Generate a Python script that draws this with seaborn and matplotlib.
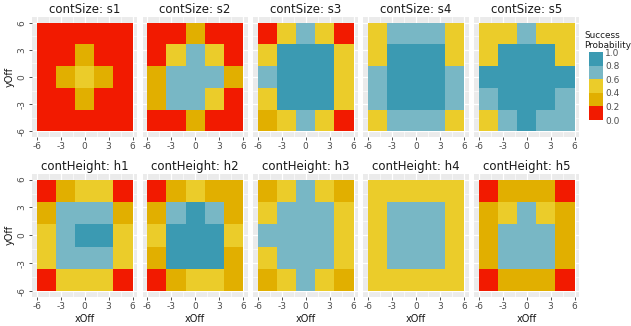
import matplotlib
matplotlib.use("Agg")
import matplotlib.pyplot as plt
from matplotlib.colors import ListedColormap, BoundaryNorm
import seaborn as sns
import pandas as pd

# grid positions
x_off = [-6, -3, 0, 3, 6]
y_off = [6, 3, 0, -3, -6]   # rows go top -> bottom

# success probability per cell (rows yOff = 6 .. -6, cols xOff = -6 .. 6)
s1 = [[0.1, 0.1, 0.1, 0.1, 0.1],
      [0.1, 0.1, 0.3, 0.1, 0.1],
      [0.1, 0.3, 0.5, 0.3, 0.1],
      [0.1, 0.1, 0.3, 0.1, 0.1],
      [0.1, 0.1, 0.1, 0.1, 0.1]]
s2 = [[0.1, 0.1, 0.3, 0.1, 0.1],
      [0.1, 0.5, 0.7, 0.5, 0.1],
      [0.3, 0.7, 0.7, 0.7, 0.3],
      [0.3, 0.7, 0.7, 0.5, 0.1],
      [0.1, 0.1, 0.3, 0.1, 0.1]]
s3 = [[0.1, 0.5, 0.7, 0.5, 0.1],
      [0.5, 0.9, 0.9, 0.9, 0.5],
      [0.7, 0.9, 0.9, 0.9, 0.5],
      [0.5, 0.9, 0.9, 0.9, 0.5],
      [0.3, 0.5, 0.7, 0.5, 0.1]]
s4 = [[0.5, 0.7, 0.7, 0.7, 0.5],
      [0.5, 0.9, 0.9, 0.9, 0.5],
      [0.7, 0.9, 0.9, 0.9, 0.7],
      [0.7, 0.9, 0.9, 0.9, 0.7],
      [0.5, 0.7, 0.7, 0.7, 0.5]]
s5 = [[0.5, 0.5, 0.7, 0.5, 0.5],
      [0.5, 0.9, 0.9, 0.9, 0.5],
      [0.9, 0.9, 0.9, 0.9, 0.9],
      [0.7, 0.9, 0.9, 0.9, 0.7],
      [0.5, 0.7, 0.9, 0.7, 0.7]]
h1 = [[0.1, 0.3, 0.5, 0.5, 0.1],
      [0.3, 0.7, 0.7, 0.7, 0.3],
      [0.5, 0.7, 0.9, 0.9, 0.5],
      [0.5, 0.7, 0.7, 0.7, 0.5],
      [0.1, 0.5, 0.5, 0.5, 0.1]]
h2 = [[0.1, 0.3, 0.5, 0.3, 0.3],
      [0.3, 0.7, 0.9, 0.7, 0.3],
      [0.5, 0.9, 0.9, 0.9, 0.5],
      [0.3, 0.9, 0.9, 0.9, 0.3],
      [0.1, 0.3, 0.5, 0.5, 0.3]]
h3 = [[0.3, 0.5, 0.7, 0.5, 0.3],
      [0.5, 0.7, 0.7, 0.7, 0.5],
      [0.7, 0.7, 0.7, 0.7, 0.5],
      [0.5, 0.7, 0.7, 0.7, 0.5],
      [0.3, 0.5, 0.7, 0.5, 0.3]]
h4 = [[0.5, 0.5, 0.5, 0.5, 0.5],
      [0.5, 0.7, 0.7, 0.7, 0.5],
      [0.5, 0.7, 0.7, 0.7, 0.5],
      [0.5, 0.7, 0.7, 0.7, 0.5],
      [0.5, 0.5, 0.5, 0.5, 0.5]]
h5 = [[0.1, 0.3, 0.3, 0.3, 0.1],
      [0.3, 0.5, 0.7, 0.5, 0.3],
      [0.3, 0.7, 0.7, 0.7, 0.3],
      [0.3, 0.7, 0.7, 0.7, 0.3],
      [0.1, 0.3, 0.3, 0.3, 0.1]]

size_titles = ["contSize: s1", "contSize: s2", "contSize: s3", "contSize: s4", "contSize: s5"]
height_titles = ["contHeight: h1", "contHeight: h2", "contHeight: h3", "contHeight: h4", "contHeight: h5"]

breaks = [0.0, 0.2, 0.4, 0.6, 0.8, 1.0]
zissou = ["#F21A00", "#E1AF00", "#EBCC2A", "#78B7C5", "#3B9AB2"]
cmap = ListedColormap(zissou)
norm = BoundaryNorm(breaks, cmap.N)

plt.rcParams["axes.unicode_minus"] = False
plt.rcParams["font.family"] = "DejaVu Sans"

fig = plt.figure(figsize=(6.31, 3.26), dpi=100)
W, H = 631, 326

def pos(v):
    # map axis value (-6..6) onto heatmap cell coordinates (0..5)
    return (v + 6) / 12 * 5

col_left = [32, 142.5, 253, 363.5, 474]
pw = 105.3
rows = [(17.3, 136.7, [s1, s2, s3, s4, s5], size_titles, False),
        (174, 296.7, [h1, h2, h3, h4, h5], height_titles, True)]

mesh = None
for top, bot, grids, titles, last in rows:
    for i, (g, t) in enumerate(zip(grids, titles)):
        ax = fig.add_axes([col_left[i] / W, 1 - bot / H, pw / W, (bot - top) / H])
        df = pd.DataFrame(g, index=y_off, columns=x_off)
        sns.heatmap(df, ax=ax, cmap=cmap, norm=norm, cbar=False, linewidths=0)
        mesh = ax.collections[0]
        ax.set_facecolor("#EBEBEB")
        for s in ax.spines.values():
            s.set_visible(False)
        ax.set_axisbelow(True)
        ax.set_xlim(-0.25, 5.25)
        ax.set_ylim(5.25, -0.25)
        ax.set_xticks([pos(v) for v in x_off])
        ax.set_xticklabels([str(v) for v in x_off])
        ax.set_xticks([pos(v) for v in [-4.5, -1.5, 1.5, 4.5]], minor=True)
        ax.set_yticks([5 - pos(v) for v in y_off])
        ax.set_yticks([5 - pos(v) for v in [4.5, 1.5, -1.5, -4.5]], minor=True)
        ax.grid(True, which="major", color="white", lw=0.9)
        ax.grid(True, which="minor", color="white", lw=0.45)
        ax.tick_params(which="major", length=2.5, width=0.6, color="#333333",
                       labelsize=6.5, labelcolor="#4D4D4D", pad=1.5)
        ax.tick_params(which="minor", length=0)
        if i == 0:
            ax.set_yticklabels([str(v) for v in y_off], rotation=90, va="center")
            ax.set_ylabel("yOff", fontsize=7, color="#1A1A1A", labelpad=2)
        else:
            ax.set_yticklabels([])
            ax.tick_params(axis="y", which="major", length=0)
            ax.set_ylabel("")
        if last:
            ax.set_xlabel("xOff", fontsize=7, color="#1A1A1A", labelpad=2)
        else:
            ax.set_xlabel("")
        ax.set_title(t, fontsize=8.5, color="#1A1A1A", pad=3)

# binned legend
cax = fig.add_axes([589 / W, 1 - 120 / H, 14 / W, 68 / H])
cb = fig.colorbar(mesh, cax=cax, ticks=breaks)
cb.outline.set_visible(False)
cb.ax.set_yticklabels(["0.0", "0.2", "0.4", "0.6", "0.8", "1.0"])
cb.ax.tick_params(length=0, labelsize=6.5, labelcolor="#4D4D4D", pad=1.5)
fig.text(584 / W, 1 - 50 / H, "Success\nProbability", fontsize=6.4, color="#1A1A1A",
         ha="left", va="bottom", linespacing=1.1)

fig.savefig("out.png", dpi=100, facecolor="white")
